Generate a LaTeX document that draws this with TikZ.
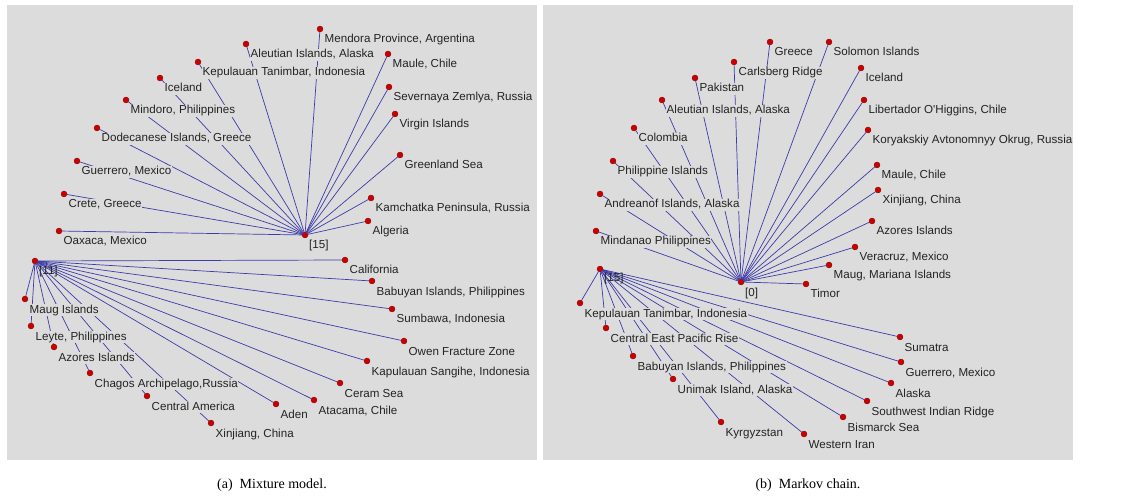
\documentclass[tikz,border=0pt]{standalone}
\usepackage{fontspec}
\setmainfont{Liberation Serif}
\newfontfamily\lblfont{Liberation Sans}
\usepackage{tikz}
\usetikzlibrary{positioning,calc}

\definecolor{panelgray}{RGB}{220,220,220}
\definecolor{edgeblue}{RGB}{60,60,170}
\definecolor{dotred}{RGB}{205,0,0}
\definecolor{textdark}{RGB}{35,35,35}

\begin{document}
\begin{tikzpicture}[
    x=1pt, y=-1pt,
    panel/.style={fill=panelgray, draw=none},
    place/.style={circle, fill=dotred, draw=dotred!60!black, line width=0.3pt, minimum size=6pt, inner sep=0pt, outer sep=0pt},
    lbl/.style={anchor=base west, fill=panelgray, text=textdark, inner xsep=0.5pt, inner ysep=0.3pt, text height=8.6pt, text depth=2.4pt, font=\lblfont\fontsize{11.6}{12}\selectfont},
    hublbl/.style={anchor=base west, text=textdark, inner sep=0.5pt, font=\lblfont\fontsize{11.6}{12}\selectfont},
    edge/.style={draw=edgeblue, line width=0.7pt},
    caption/.style={font=\fontsize{14}{16}\selectfont}
]
\useasboundingbox (0,0) rectangle (1141,497);

% panels
\fill[panel] (7,5) rectangle (537,460);
\fill[panel] (543,5) rectangle (1073,460);

% (a) Mixture model: places
\node[place] (mm_hub15) at (305,235) {};
\node[place] (mm_hub11) at (35,261) {};
\node[place] (mm_mendora) at (320,29) {};
\node[place] (mm_aleutian) at (246,44) {};
\node[place] (mm_tanimbar) at (198,62) {};
\node[place] (mm_iceland) at (160,78) {};
\node[place] (mm_mindoro) at (126,100) {};
\node[place] (mm_dodecanese) at (97,128) {};
\node[place] (mm_guerrero) at (77,161) {};
\node[place] (mm_crete) at (64,194) {};
\node[place] (mm_oaxaca) at (59,231) {};
\node[place] (mm_maule) at (388,54) {};
\node[place] (mm_severnaya) at (389,87) {};
\node[place] (mm_virgin) at (395,114) {};
\node[place] (mm_greenland) at (400,155) {};
\node[place] (mm_kamchatka) at (371,198) {};
\node[place] (mm_algeria) at (368,221) {};
\node[place] (mm_maug) at (25,299) {};
\node[place] (mm_leyte) at (31,326) {};
\node[place] (mm_azores) at (54,347) {};
\node[place] (mm_chagos) at (90,373) {};
\node[place] (mm_central) at (147,396) {};
\node[place] (mm_xinjiang) at (211,423) {};
\node[place] (mm_aden) at (276,404) {};
\node[place] (mm_atacama) at (314,400) {};
\node[place] (mm_ceram) at (340,383) {};
\node[place] (mm_sangihe) at (367,361) {};
\node[place] (mm_owen) at (404,341) {};
\node[place] (mm_sumbawa) at (392,309) {};
\node[place] (mm_babuyan) at (372,281) {};
\node[place] (mm_california) at (345,260) {};

% (a) edges
\draw[edge] (mm_hub15) -- (mm_mendora);
\draw[edge] (mm_hub15) -- (mm_aleutian);
\draw[edge] (mm_hub15) -- (mm_tanimbar);
\draw[edge] (mm_hub15) -- (mm_iceland);
\draw[edge] (mm_hub15) -- (mm_mindoro);
\draw[edge] (mm_hub15) -- (mm_dodecanese);
\draw[edge] (mm_hub15) -- (mm_guerrero);
\draw[edge] (mm_hub15) -- (mm_crete);
\draw[edge] (mm_hub15) -- (mm_oaxaca);
\draw[edge] (mm_hub15) -- (mm_maule);
\draw[edge] (mm_hub15) -- (mm_severnaya);
\draw[edge] (mm_hub15) -- (mm_virgin);
\draw[edge] (mm_hub15) -- (mm_greenland);
\draw[edge] (mm_hub15) -- (mm_kamchatka);
\draw[edge] (mm_hub15) -- (mm_algeria);
\draw[edge] (mm_hub11) -- (mm_maug);
\draw[edge] (mm_hub11) -- (mm_leyte);
\draw[edge] (mm_hub11) -- (mm_azores);
\draw[edge] (mm_hub11) -- (mm_chagos);
\draw[edge] (mm_hub11) -- (mm_central);
\draw[edge] (mm_hub11) -- (mm_xinjiang);
\draw[edge] (mm_hub11) -- (mm_aden);
\draw[edge] (mm_hub11) -- (mm_atacama);
\draw[edge] (mm_hub11) -- (mm_ceram);
\draw[edge] (mm_hub11) -- (mm_sangihe);
\draw[edge] (mm_hub11) -- (mm_owen);
\draw[edge] (mm_hub11) -- (mm_sumbawa);
\draw[edge] (mm_hub11) -- (mm_babuyan);
\draw[edge] (mm_hub11) -- (mm_california);

% (a) labels
\node[hublbl] at ([xshift=3.5pt,yshift=-14pt]mm_hub15.center) {[15]};
\node[hublbl] at ([xshift=3.5pt,yshift=-14pt]mm_hub11.center) {[11]};
\node[lbl] at ([xshift=4pt,yshift=-14pt]mm_mendora.center) {Mendora Province, Argentina};
\node[lbl] at ([xshift=4pt,yshift=-14pt]mm_aleutian.center) {Aleutian Islands, Alaska};
\node[lbl] at ([xshift=4pt,yshift=-14pt]mm_tanimbar.center) {Kepulauan Tanimbar, Indonesia};
\node[lbl] at ([xshift=4pt,yshift=-14pt]mm_iceland.center) {Iceland};
\node[lbl] at ([xshift=4pt,yshift=-14pt]mm_mindoro.center) {Mindoro, Philippines};
\node[lbl] at ([xshift=4pt,yshift=-14pt]mm_dodecanese.center) {Dodecanese Islands, Greece};
\node[lbl] at ([xshift=4pt,yshift=-14pt]mm_guerrero.center) {Guerrero, Mexico};
\node[lbl] at ([xshift=4pt,yshift=-14pt]mm_crete.center) {Crete, Greece};
\node[lbl] at ([xshift=4pt,yshift=-14pt]mm_oaxaca.center) {Oaxaca, Mexico};
\node[lbl] at ([xshift=4pt,yshift=-14pt]mm_maule.center) {Maule, Chile};
\node[lbl] at ([xshift=4pt,yshift=-14pt]mm_severnaya.center) {Severnaya Zemlya, Russia};
\node[lbl] at ([xshift=4pt,yshift=-14pt]mm_virgin.center) {Virgin Islands};
\node[lbl] at ([xshift=4pt,yshift=-14pt]mm_greenland.center) {Greenland Sea};
\node[lbl] at ([xshift=4pt,yshift=-14pt]mm_kamchatka.center) {Kamchatka Peninsula, Russia};
\node[lbl] at ([xshift=4pt,yshift=-14pt]mm_algeria.center) {Algeria};
\node[lbl] at ([xshift=4pt,yshift=-14pt]mm_maug.center) {Maug Islands};
\node[lbl] at ([xshift=4pt,yshift=-14pt]mm_leyte.center) {Leyte, Philippines};
\node[lbl] at ([xshift=4pt,yshift=-14pt]mm_azores.center) {Azores Islands};
\node[lbl] at ([xshift=4pt,yshift=-14pt]mm_chagos.center) {Chagos Archipelago,Russia};
\node[lbl] at ([xshift=4pt,yshift=-14pt]mm_central.center) {Central America};
\node[lbl] at ([xshift=4pt,yshift=-14pt]mm_xinjiang.center) {Xinjiang, China};
\node[lbl] at ([xshift=4pt,yshift=-14pt]mm_aden.center) {Aden};
\node[lbl] at ([xshift=4pt,yshift=-14pt]mm_atacama.center) {Atacama, Chile};
\node[lbl] at ([xshift=4pt,yshift=-14pt]mm_ceram.center) {Ceram Sea};
\node[lbl] at ([xshift=4pt,yshift=-14pt]mm_sangihe.center) {Kapulauan Sangihe, Indonesia};
\node[lbl] at ([xshift=4pt,yshift=-14pt]mm_owen.center) {Owen Fracture Zone};
\node[lbl] at ([xshift=4pt,yshift=-14pt]mm_sumbawa.center) {Sumbawa, Indonesia};
\node[lbl] at ([xshift=4pt,yshift=-14pt]mm_babuyan.center) {Babuyan Islands, Philippines};
\node[lbl] at ([xshift=4pt,yshift=-14pt]mm_california.center) {California};

% (b) Markov chain: places
\node[place] (mc_hub0) at (741,282) {};
\node[place] (mc_hub15) at (600,269) {};
\node[place] (mc_greece) at (770,42) {};
\node[place] (mc_solomon) at (829,42) {};
\node[place] (mc_carlsberg) at (734,62) {};
\node[place] (mc_pakistan) at (695,78) {};
\node[place] (mc_aleutian) at (662,100) {};
\node[place] (mc_colombia) at (634,128) {};
\node[place] (mc_philippine) at (613,161) {};
\node[place] (mc_andreanof) at (600,194) {};
\node[place] (mc_mindanao) at (596,231) {};
\node[place] (mc_iceland) at (861,68) {};
\node[place] (mc_libertador) at (864,100) {};
\node[place] (mc_koryakskiy) at (868,130) {};
\node[place] (mc_maule) at (877,165) {};
\node[place] (mc_xinjiang) at (878,190) {};
\node[place] (mc_azores) at (872,221) {};
\node[place] (mc_veracruz) at (855,247) {};
\node[place] (mc_maug) at (829,265) {};
\node[place] (mc_timor) at (806,284) {};
\node[place] (mc_tanimbar) at (580,303) {};
\node[place] (mc_pacific) at (606,328) {};
\node[place] (mc_babuyan) at (633,356) {};
\node[place] (mc_unimak) at (673,379) {};
\node[place] (mc_kyrgyzstan) at (721,422) {};
\node[place] (mc_iran) at (804,434) {};
\node[place] (mc_bismarck) at (843,417) {};
\node[place] (mc_indian) at (867,401) {};
\node[place] (mc_alaska) at (891,383) {};
\node[place] (mc_guerrero) at (901,362) {};
\node[place] (mc_sumatra) at (900,337) {};

% (b) edges
\draw[edge] (mc_hub0) -- (mc_greece);
\draw[edge] (mc_hub0) -- (mc_solomon);
\draw[edge] (mc_hub0) -- (mc_carlsberg);
\draw[edge] (mc_hub0) -- (mc_pakistan);
\draw[edge] (mc_hub0) -- (mc_aleutian);
\draw[edge] (mc_hub0) -- (mc_colombia);
\draw[edge] (mc_hub0) -- (mc_philippine);
\draw[edge] (mc_hub0) -- (mc_andreanof);
\draw[edge] (mc_hub0) -- (mc_mindanao);
\draw[edge] (mc_hub0) -- (mc_iceland);
\draw[edge] (mc_hub0) -- (mc_libertador);
\draw[edge] (mc_hub0) -- (mc_koryakskiy);
\draw[edge] (mc_hub0) -- (mc_maule);
\draw[edge] (mc_hub0) -- (mc_xinjiang);
\draw[edge] (mc_hub0) -- (mc_azores);
\draw[edge] (mc_hub0) -- (mc_veracruz);
\draw[edge] (mc_hub0) -- (mc_maug);
\draw[edge] (mc_hub0) -- (mc_timor);
\draw[edge] (mc_hub15) -- (mc_tanimbar);
\draw[edge] (mc_hub15) -- (mc_pacific);
\draw[edge] (mc_hub15) -- (mc_babuyan);
\draw[edge] (mc_hub15) -- (mc_unimak);
\draw[edge] (mc_hub15) -- (mc_kyrgyzstan);
\draw[edge] (mc_hub15) -- (mc_iran);
\draw[edge] (mc_hub15) -- (mc_bismarck);
\draw[edge] (mc_hub15) -- (mc_indian);
\draw[edge] (mc_hub15) -- (mc_alaska);
\draw[edge] (mc_hub15) -- (mc_guerrero);
\draw[edge] (mc_hub15) -- (mc_sumatra);

% (b) labels
\node[hublbl] at ([xshift=3.5pt,yshift=-14pt]mc_hub0.center) {[0]};
\node[hublbl] at ([xshift=3.5pt,yshift=-13pt]mc_hub15.center) {[15]};
\node[lbl] at ([xshift=4pt,yshift=-14pt]mc_greece.center) {Greece};
\node[lbl] at ([xshift=4pt,yshift=-14pt]mc_solomon.center) {Solomon Islands};
\node[lbl] at ([xshift=4pt,yshift=-14pt]mc_carlsberg.center) {Carlsberg Ridge};
\node[lbl] at ([xshift=4pt,yshift=-14pt]mc_pakistan.center) {Pakistan};
\node[lbl] at ([xshift=4pt,yshift=-14pt]mc_aleutian.center) {Aleutian Islands, Alaska};
\node[lbl] at ([xshift=4pt,yshift=-14pt]mc_colombia.center) {Colombia};
\node[lbl] at ([xshift=4pt,yshift=-14pt]mc_philippine.center) {Philippine Islands};
\node[lbl] at ([xshift=4pt,yshift=-14pt]mc_andreanof.center) {Andreanof Islands, Alaska};
\node[lbl] at ([xshift=4pt,yshift=-14pt]mc_mindanao.center) {Mindanao Philippines};
\node[lbl] at ([xshift=4pt,yshift=-14pt]mc_iceland.center) {Iceland};
\node[lbl] at ([xshift=4pt,yshift=-14pt]mc_libertador.center) {Libertador O\textquotesingle Higgins, Chile};
\node[lbl] at ([xshift=4pt,yshift=-14pt]mc_koryakskiy.center) {Koryakskiy Avtonomnyy Okrug, Russia};
\node[lbl] at ([xshift=4pt,yshift=-14pt]mc_maule.center) {Maule, Chile};
\node[lbl] at ([xshift=4pt,yshift=-14pt]mc_xinjiang.center) {Xinjiang, China};
\node[lbl] at ([xshift=4pt,yshift=-14pt]mc_azores.center) {Azores Islands};
\node[lbl] at ([xshift=4pt,yshift=-14pt]mc_veracruz.center) {Veracruz, Mexico};
\node[lbl] at ([xshift=4pt,yshift=-14pt]mc_maug.center) {Maug, Mariana Islands};
\node[lbl] at ([xshift=4pt,yshift=-14pt]mc_timor.center) {Timor};
\node[lbl] at ([xshift=4pt,yshift=-14pt]mc_tanimbar.center) {Kepulauan Tanimbar, Indonesia};
\node[lbl] at ([xshift=4pt,yshift=-14pt]mc_pacific.center) {Central East Pacific Rise};
\node[lbl] at ([xshift=4pt,yshift=-14pt]mc_babuyan.center) {Babuyan Islands, Philippines};
\node[lbl] at ([xshift=4pt,yshift=-14pt]mc_unimak.center) {Unimak Island, Alaska};
\node[lbl] at ([xshift=4pt,yshift=-14pt]mc_kyrgyzstan.center) {Kyrgyzstan};
\node[lbl] at ([xshift=4pt,yshift=-14pt]mc_iran.center) {Western Iran};
\node[lbl] at ([xshift=4pt,yshift=-14pt]mc_bismarck.center) {Bismarck Sea};
\node[lbl] at ([xshift=4pt,yshift=-14pt]mc_indian.center) {Southwest Indian Ridge};
\node[lbl] at ([xshift=4pt,yshift=-14pt]mc_alaska.center) {Alaska};
\node[lbl] at ([xshift=4pt,yshift=-14pt]mc_guerrero.center) {Guerrero, Mexico};
\node[lbl] at ([xshift=4pt,yshift=-14pt]mc_sumatra.center) {Sumatra};

% captions
\node[caption] (cap_a) at (272,485) {(a)\ \ Mixture model.};
\node[caption] (cap_b) at (808,485) {(b)\ \ Markov chain.};

\end{tikzpicture}
\end{document}
